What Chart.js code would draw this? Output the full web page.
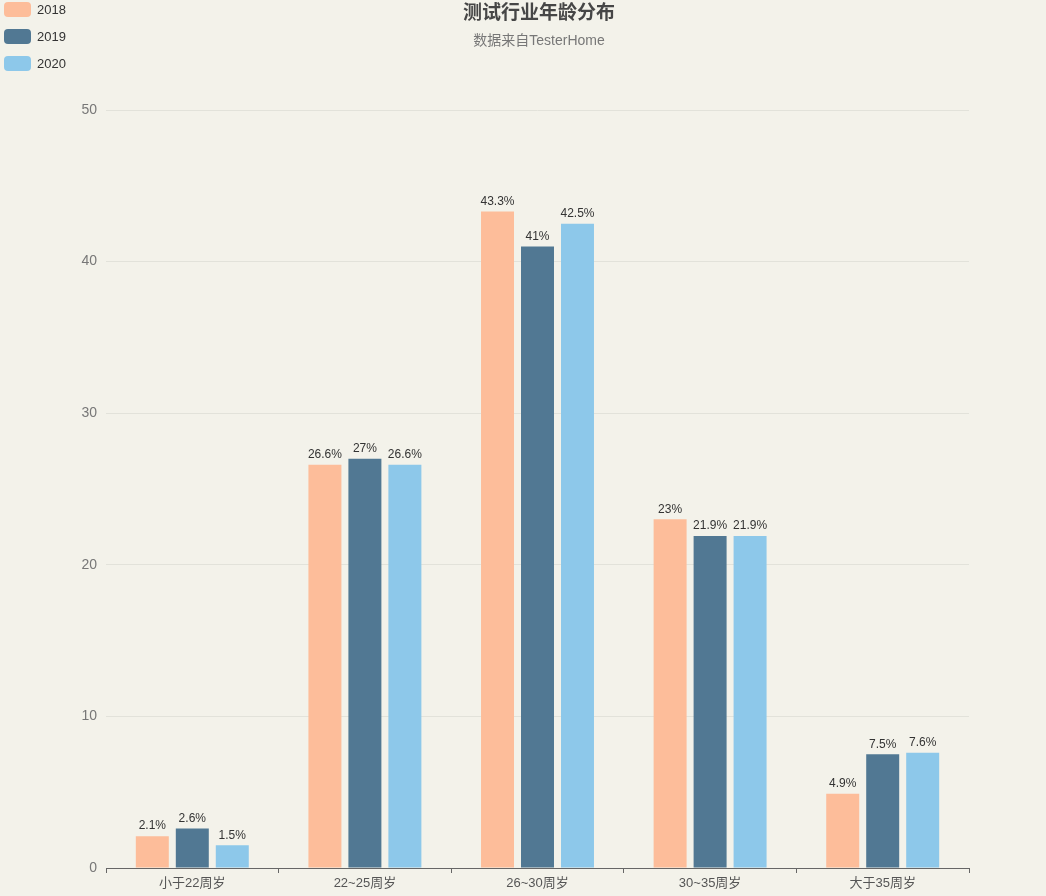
<!DOCTYPE html>
<html>
<head>
<meta charset="utf-8">
<script src="https://cdn.jsdelivr.net/npm/chart.js@4/dist/chart.umd.min.js"></script>
<style>
  html, body { margin: 0; padding: 0; background: #f3f2ea; }
  #wrap { position: relative; width: 1046px; height: 896px; font-family: "Liberation Sans", "Noto Sans CJK SC", sans-serif; }
  #legend { position: absolute; left: 4px; top: -4px; font-size: 13px; color: #333; }
  .item { display: flex; align-items: center; height: 27px; }
  .box { width: 27px; height: 15px; border-radius: 4px; margin-right: 6px; }
  #title { position: absolute; left: 339px; width: 400px; top: 1px; text-align: center; font-size: 19px; font-weight: bold; color: #464646; line-height: 24px; }
  #subtitle { position: absolute; left: 339px; width: 400px; top: 31px; text-align: center; font-size: 14px; color: #777; line-height: 18px; }
</style>
</head>
<body>
<div id="wrap">
  <canvas id="chart" width="1046" height="896"></canvas>
  <div id="title">测试行业年龄分布</div>
  <div id="subtitle">数据来自TesterHome</div>
  <div id="legend"></div>
</div>
<script>
const categories = ["小于22周岁", "22~25周岁", "26~30周岁", "30~35周岁", "大于35周岁"];
const years = ["2018", "2019", "2020"];
const values2018 = [2.1, 26.6, 43.3, 23, 4.9];
const values2019 = [2.6, 27, 41, 21.9, 7.5];
const values2020 = [1.5, 26.6, 42.5, 21.9, 7.6];
const colors = ["#fdbd9a", "#517893", "#8dc8ea"];

const font = "'Liberation Sans', 'Noto Sans CJK SC', sans-serif";

// 在柱子上方画百分比
const barLabels = {
  id: "barLabels",
  afterDatasetsDraw(chart) {
    const ctx = chart.ctx;
    ctx.save();
    ctx.font = "12px " + font;
    ctx.fillStyle = "#333";
    ctx.textAlign = "center";
    ctx.textBaseline = "bottom";
    chart.data.datasets.forEach((ds, i) => {
      chart.getDatasetMeta(i).data.forEach((bar, j) => {
        ctx.fillText(ds.data[j] + "%", bar.x, bar.y - 4);
      });
    });
    ctx.restore();
  }
};

const seriesValues = [values2018, values2019, values2020];

const chart = new Chart(document.getElementById("chart"), {
  type: "bar",
  data: {
    labels: categories,
    datasets: years.map((y, i) => ({
      label: y,
      data: seriesValues[i],
      backgroundColor: colors[i],
      categoryPercentage: 0.695,
      barPercentage: 0.825
    }))
  },
  options: {
    responsive: false,
    animation: false,
    layout: { padding: { top: 110, right: 77 } },
    plugins: {
      legend: { display: false },
      tooltip: { enabled: false }
    },
    scales: {
      x: {
        grid: { display: true, drawOnChartArea: false, drawTicks: true, tickLength: 5, color: "#666" },
        border: { display: true, color: "#666", width: 1 },
        ticks: { color: "#555", font: { family: font, size: 13 }, padding: 3 },
        afterFit(scale) { scale.height = 28; }
      },
      y: {
        min: 0,
        max: 50,
        ticks: { stepSize: 10, color: "#777", font: { family: font, size: 14 }, padding: 9 },
        grid: { color: "#e2e2da", drawTicks: false },
        border: { display: false },
        afterFit(scale) { scale.width = 106; }
      }
    }
  },
  plugins: [barLabels]
});

// 图例放在左上角
const legend = document.getElementById("legend");
years.forEach((y, i) => {
  const item = document.createElement("div");
  item.className = "item";
  const box = document.createElement("span");
  box.className = "box";
  box.style.background = colors[i];
  const text = document.createElement("span");
  text.textContent = y;
  item.appendChild(box);
  item.appendChild(text);
  legend.appendChild(item);
});
</script>
</body>
</html>
